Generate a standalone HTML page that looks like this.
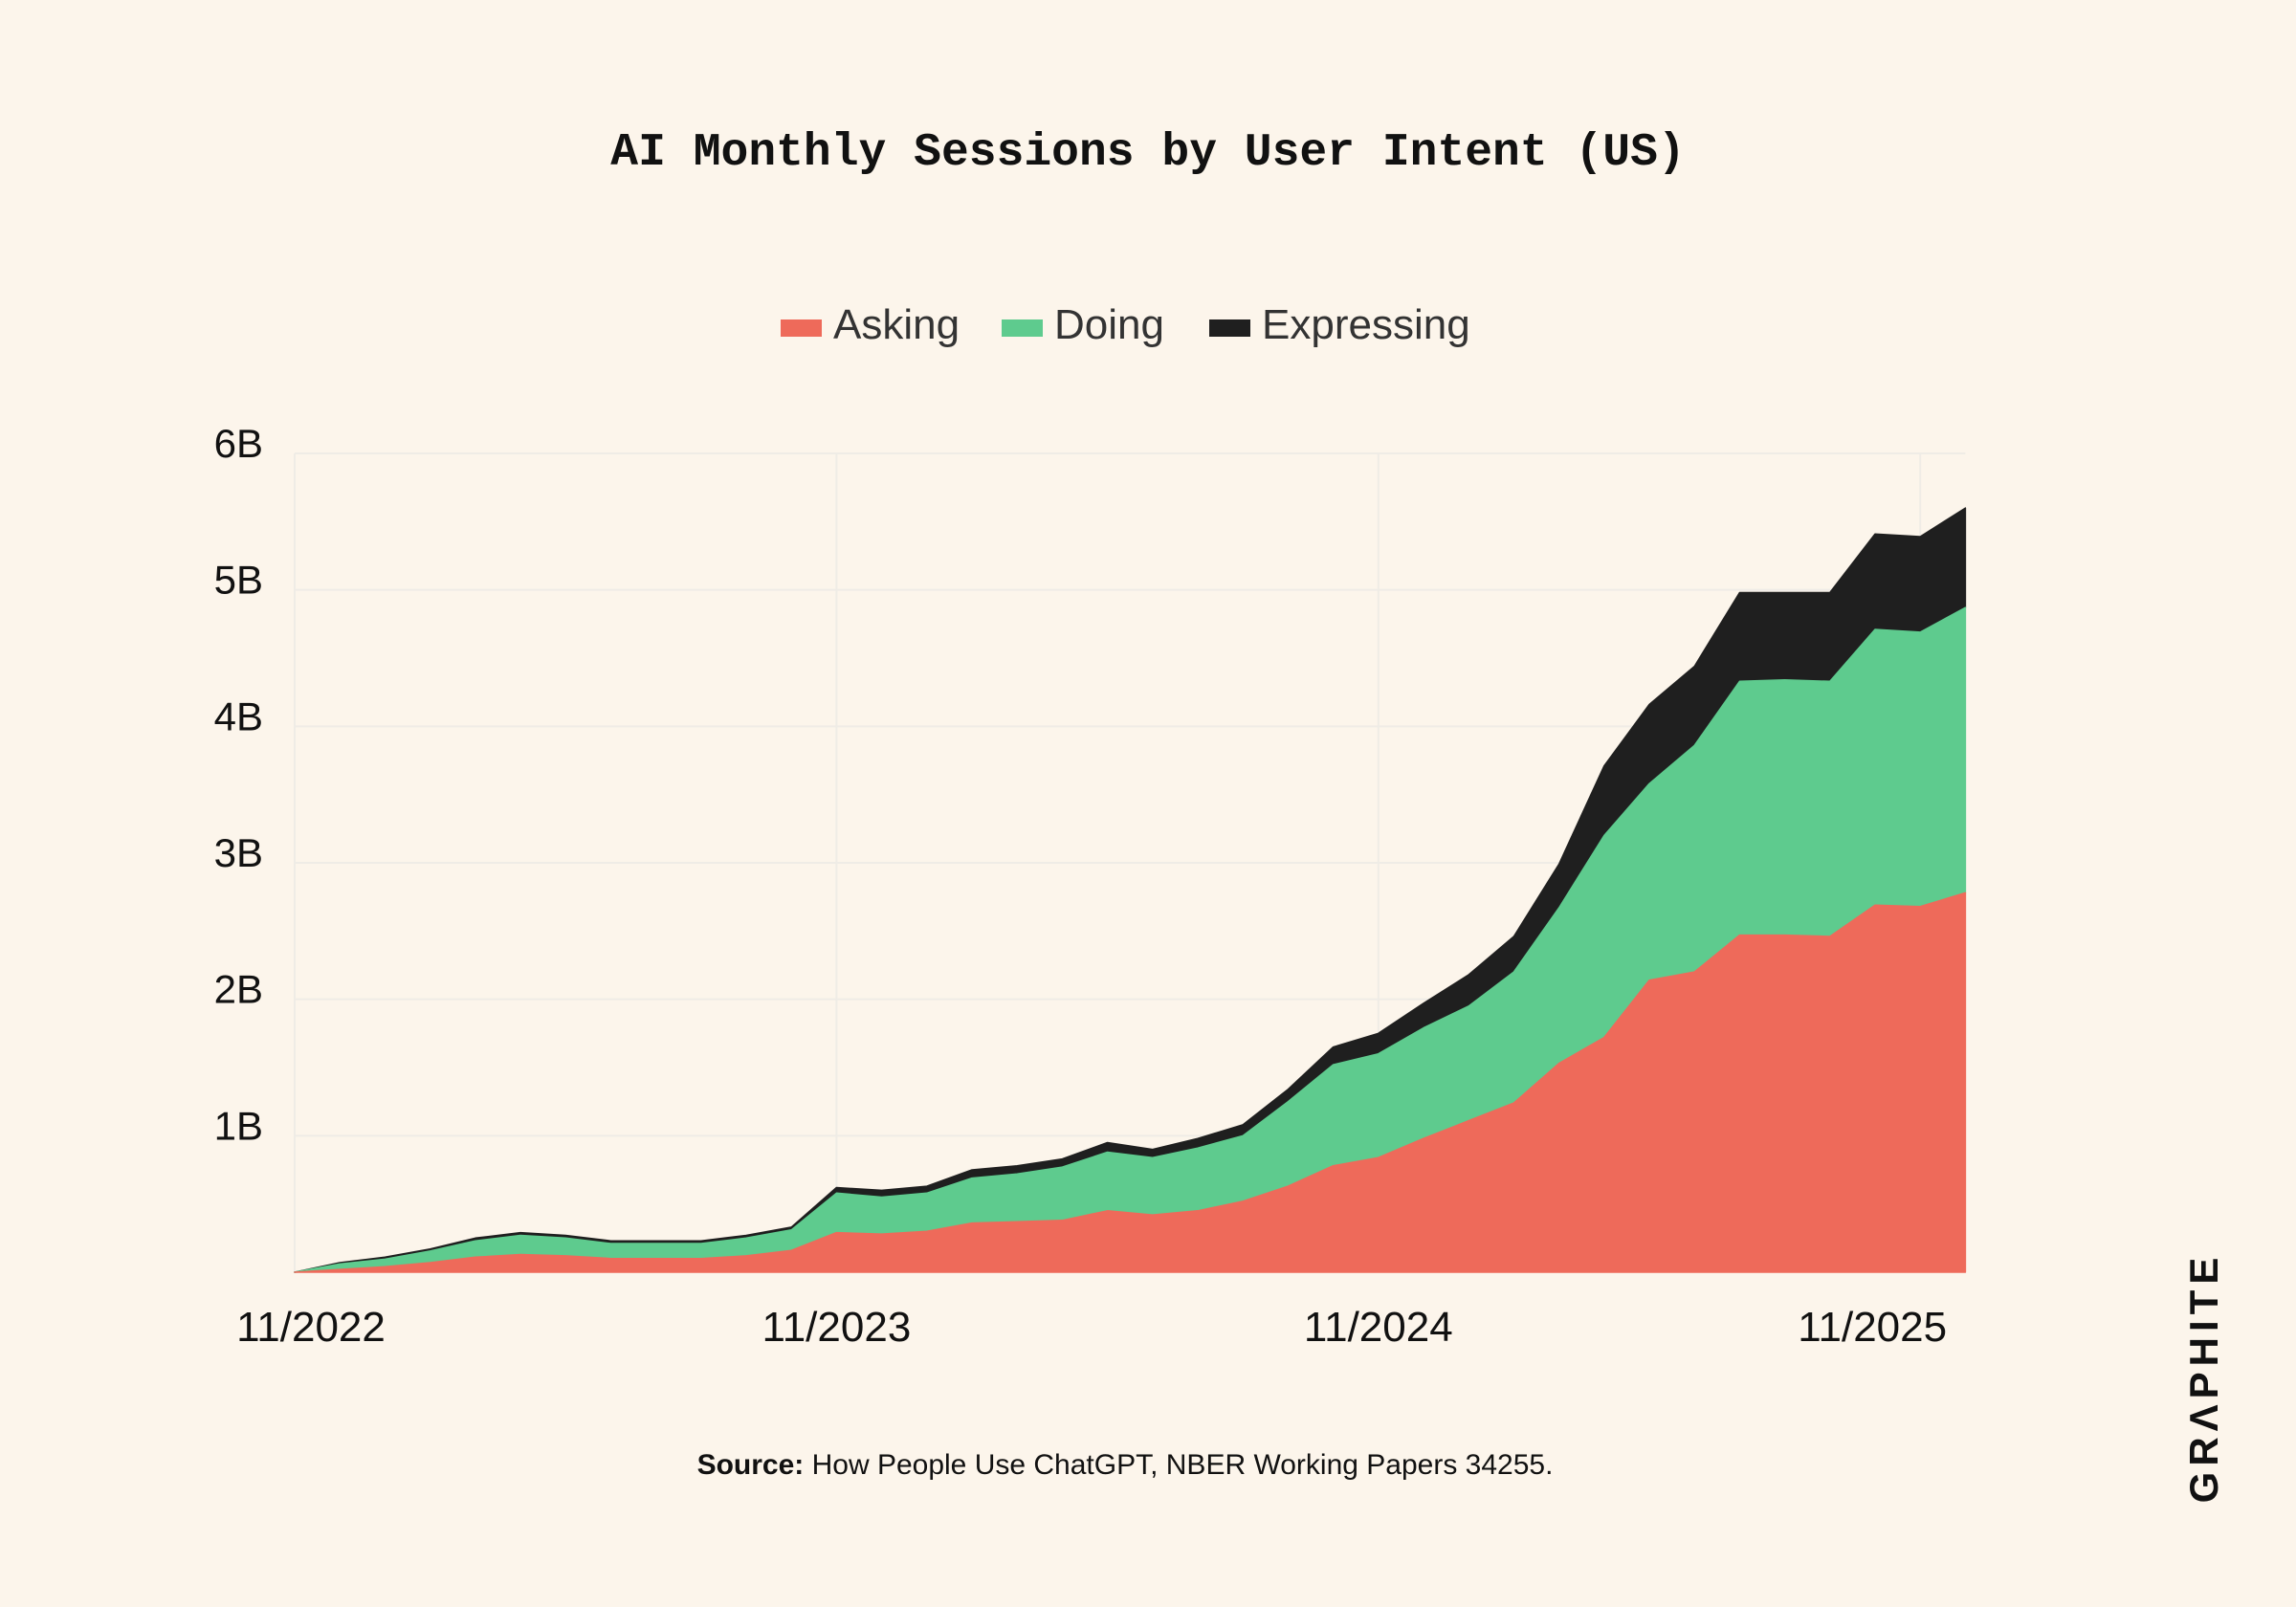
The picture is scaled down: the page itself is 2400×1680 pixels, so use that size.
<!DOCTYPE html>
<html><head><meta charset="utf-8"><style>
html,body{margin:0;padding:0;background:#fcf5eb;}
svg{display:block;}
</style></head><body>
<svg id="chart" width="2400" height="1680" viewBox="0 0 2400 1680" xmlns="http://www.w3.org/2000/svg">
<rect width="2400" height="1680" fill="#fcf5eb"/>
<text x="1200" y="172" text-anchor="middle" font-family="'Liberation Mono',monospace" font-weight="bold" font-size="48" fill="#111">AI Monthly Sessions by User Intent (US)</text>
<g font-family="'Liberation Sans','DejaVu Sans',sans-serif" font-size="44" fill="#333">
 <g><rect x="816" y="334" width="43" height="18" fill="#ee6a5a"/><text x="871" y="354">Asking</text></g>
 <g><rect x="1047" y="334" width="43" height="18" fill="#5ecb8e"/><text x="1102" y="354">Doing</text></g>
 <g><rect x="1264" y="334" width="43" height="18" fill="#1f1f1f"/><text x="1319" y="354">Expressing</text></g>
</g>
<g id="grid"></g>
<g id="areas"></g>
<g id="yaxis"></g>
<g id="xaxis"></g>
<text x="1176" y="1541" text-anchor="middle" font-family="'Liberation Sans','DejaVu Sans',sans-serif" font-size="30" fill="#111"><tspan font-weight="bold">Source:</tspan> How People Use ChatGPT, NBER Working Papers 34255.</text>
<text transform="translate(2318,1440) rotate(-90)" text-anchor="middle" font-family="'Liberation Sans','DejaVu Sans',sans-serif" font-weight="bold" font-size="42" letter-spacing="6" fill="#111">GRΛPHITE</text>
</svg>
<script>
const months = ["11/2022","12/2022","1/2023","2/2023","3/2023","4/2023","5/2023","6/2023","7/2023","8/2023","9/2023","10/2023","11/2023","12/2023","1/2024","2/2024","3/2024","4/2024","5/2024","6/2024","7/2024","8/2024","9/2024","10/2024","11/2024","12/2024","1/2025","2/2025","3/2025","4/2025","5/2025","6/2025","7/2025","8/2025","9/2025","10/2025","11/2025","12/2025"];
const asking = [0,0.02,0.04,0.07,0.11,0.13,0.12,0.10,0.10,0.10,0.12,0.16,0.29,0.28,0.30,0.36,0.37,0.38,0.45,0.42,0.45,0.52,0.63,0.78,0.84,0.98,1.11,1.24,1.53,1.72,2.14,2.20,2.47,2.47,2.46,2.69,2.68,2.78];
const doing = [0,0.04,0.055,0.085,0.12,0.14,0.13,0.11,0.11,0.11,0.13,0.15,0.29,0.27,0.28,0.33,0.35,0.39,0.43,0.42,0.46,0.48,0.62,0.74,0.76,0.81,0.84,0.96,1.14,1.48,1.44,1.66,1.86,1.87,1.87,2.02,2.01,2.09];
const expressing = [0,0.01,0.015,0.015,0.02,0.02,0.02,0.02,0.02,0.02,0.02,0.02,0.04,0.05,0.05,0.06,0.06,0.06,0.07,0.06,0.07,0.08,0.09,0.13,0.15,0.18,0.23,0.26,0.32,0.51,0.58,0.58,0.65,0.64,0.65,0.70,0.70,0.73];
const yTicks = [1,2,3,4,5,6];
const yTickLabels = ["1B","2B","3B","4B","5B","6B"];
const xTickIdx = [0,12,24,36];
const xTickLabels = ["11/2022","11/2023","11/2024","11/2025"];

const NS="http://www.w3.org/2000/svg";
const X0=308, MONTH=47.2, Y0=1330, YMAX=474;
const xs=i=>X0+i*MONTH;
const ys=v=>Y0-(Y0-YMAX)*v/6;
const XR=xs(months.length-1);
function mk(tag,attrs,parent){const e=document.createElementNS(NS,tag);for(const k in attrs)e.setAttribute(k,attrs[k]);parent.appendChild(e);return e;}
const grid=document.getElementById('grid');
yTicks.forEach(t=>{const l=mk('line',{x1:X0,x2:XR,y1:ys(t),y2:ys(t),stroke:'#efece6','stroke-width':2},grid);

});
[0].concat(xTickIdx.slice(1)).forEach(i=>{const l=mk('line',{x1:xs(i),x2:xs(i),y1:ys(6),y2:Y0,stroke:'#efece6','stroke-width':2},grid);

});
const areas=document.getElementById('areas');
const c1=asking, c2=asking.map((v,i)=>v+doing[i]), c3=c2.map((v,i)=>v+expressing[i]);
function area(lo,hi,color,name){
 let d='M'+hi.map((v,i)=>xs(i).toFixed(1)+','+ys(v).toFixed(1)).join(' L');
 for(let i=lo.length-1;i>=0;i--) d+=' L'+xs(i).toFixed(1)+','+ys(lo[i]).toFixed(1);
 const p=mk('path',{d:d+'Z',fill:color,stroke:color,'stroke-width':1.5,'stroke-linejoin':'round'},areas);
 
 
}
const zero=asking.map(()=>0);
area(c2,c3,'#1f1f1f','area-expressing');
area(c1,c2,'#5ecb8e','area-doing');
area(zero,c1,'#ee6a5a','area-asking');
const yaxis=document.getElementById('yaxis');
yTicks.forEach((t,k)=>{const tx=mk('text',{x:275,y:ys(t)+4,'text-anchor':'end','font-family':"'Liberation Sans','DejaVu Sans',sans-serif",'font-size':42,fill:'#111'},yaxis);tx.textContent=yTickLabels[k];

});
const xaxis=document.getElementById('xaxis');
const xoff=[17,0,0,-50];
xTickIdx.forEach((i,k)=>{const tx=mk('text',{x:xs(i)+xoff[k],y:1402,'text-anchor':'middle','font-family':"'Liberation Sans','DejaVu Sans',sans-serif",'font-size':44,fill:'#111'},xaxis);tx.textContent=xTickLabels[k];

});
</script>
</body></html>
